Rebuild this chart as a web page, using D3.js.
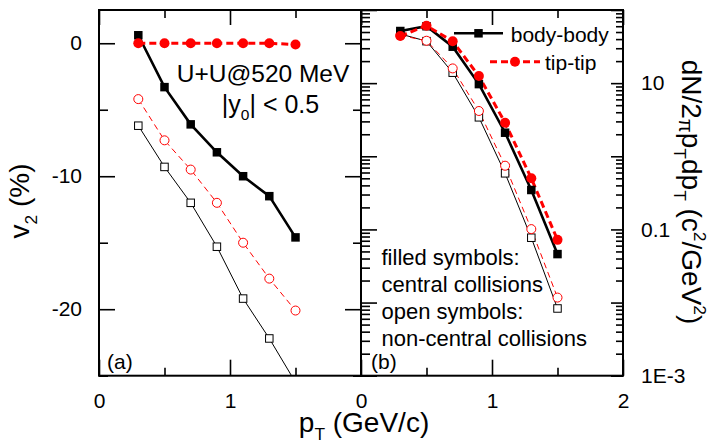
<!DOCTYPE html>
<html>
<head>
<meta charset="utf-8">
<script src="https://cdn.jsdelivr.net/npm/d3@7"></script>
<style>
  body { margin: 0; background: #fff; }
  svg { font-family: "Liberation Sans", Arial, sans-serif; }
</style>
</head>
<body>
<div id="chart"></div>
<script>
// DATA
const pT = [0.3, 0.5, 0.7, 0.9, 1.1, 1.3, 1.5];

// panel (a): v2 (%)
const v2BodyCentral = [0.6, -3.3, -6.1, -8.2, -10.0, -11.5, -14.6];
const v2TipCentral = [0, 0, 0, 0, 0, 0, -0.1];
const v2BodyNonCentral = [-6.2, -9.3, -12.0, -15.3, -19.2, -22.2, -25.5];
const v2TipNonCentral = [-4.2, -7.3, -9.5, -12.0, -15.0, -17.7, -20.1];

// panel (b): dN/2pi pT dpT
const specBodyCentral = [51.6, 60, 31.5, 9.7, 2.1, 0.346, 0.046];
const specTipCentral = [44, 61, 37.3, 12.5, 2.88, 0.5, 0.072];
const specBodyNonCentral = [47, 37.5, 13.9, 3.41, 0.585, 0.077, 0.0083];
const specTipNonCentral = [45, 38, 15.9, 4.16, 0.743, 0.101, 0.0117];

// TICKS
const xTicksA = [0, 1];
const xTicksB = [0, 1, 2];
const xMinor = [0.5, 1.5];
const v2Ticks = [0, -10, -20];
const v2Minor = [-5, -15, -25];
const logTicks = [1e-3, 1e-2, 1e-1, 1, 10, 100];
const logTickLabels = { 0.001: "1E-3", 0.1: "0.1", 10: "10" };

const WIDTH = 715;
const HEIGHT = 447;
const TOP = 10;
const BOTTOM = 375.7;
const FONT = 21;

const svg = d3
  .select("#chart")
  .append("svg")
  .attr("width", WIDTH)
  .attr("height", HEIGHT);

// SCALES
const xA = d3.scaleLinear().domain([0, 2]).range([99, 361]);
const xB = d3.scaleLinear().domain([0, 2]).range([361, 623]);
const yV2 = d3.scaleLinear().domain([-25, 2.5]).range([BOTTOM, TOP]);
const yLog = d3.scaleLog().domain([1e-3, 100]).range([BOTTOM, TOP]);

const logMinor = [];
[1e-3, 1e-2, 1e-1, 1, 10].forEach((d) => {
  for (let k = 2; k <= 9; k++) logMinor.push(d * k);
});

// clip
const defs = svg.append("defs");
defs
  .append("clipPath")
  .attr("id", "clipA")
  .append("rect")
  .attr("x", 99)
  .attr("y", TOP)
  .attr("width", 262)
  .attr("height", BOTTOM - TOP);

const plain = (d) => String(d);

// AXIS helper
function styleAxis(g) {
  g.select(".domain").remove();
  g.selectAll(".tick line").attr("stroke", "#000").attr("stroke-width", 1.6);
  g.selectAll(".tick text")
    .attr("fill", "#000")
    .attr("font-size", FONT + "px")
    .attr("font-family", "Liberation Sans, Arial, sans-serif");
  g.selectAll(".tick text")
    .filter(function () {
      return !this.textContent;
    })
    .remove();
}

function drawFrameAxes(x, y, opts) {
  // bottom
  svg
    .append("g")
    .attr("transform", `translate(0, ${BOTTOM})`)
    .call(
      d3
        .axisBottom(x)
        .tickValues(opts.xLabels)
        .tickSizeInner(-16)
        .tickSizeOuter(0)
        .tickPadding(17)
        .tickFormat(plain)
    )
    .call(styleAxis);
  svg
    .append("g")
    .attr("transform", `translate(0, ${BOTTOM})`)
    .call(d3.axisBottom(x).tickValues(xMinor).tickSize(-8).tickFormat(""))
    .call(styleAxis);
  // top
  svg
    .append("g")
    .attr("transform", `translate(0, ${TOP})`)
    .call(d3.axisTop(x).tickValues([0, 1, 2]).tickSize(-15).tickFormat(""))
    .call(styleAxis);
  svg
    .append("g")
    .attr("transform", `translate(0, ${TOP})`)
    .call(d3.axisTop(x).tickValues(xMinor).tickSize(-8).tickFormat(""))
    .call(styleAxis);
  // left / right
  const x0 = x.range()[0];
  const x1 = x.range()[1];
  svg
    .append("g")
    .attr("transform", `translate(${x0}, 0)`)
    .call(
      d3
        .axisLeft(y)
        .tickValues(opts.yMajor)
        .tickSizeInner(-16)
        .tickSizeOuter(0)
        .tickPadding(17)
        .tickFormat(opts.leftFormat)
    )
    .call(styleAxis);
  svg
    .append("g")
    .attr("transform", `translate(${x0}, 0)`)
    .call(d3.axisLeft(y).tickValues(opts.yMinor).tickSize(-9).tickFormat(""))
    .call(styleAxis);
  svg
    .append("g")
    .attr("transform", `translate(${x1}, 0)`)
    .call(
      d3
        .axisRight(y)
        .tickValues(opts.yMajor)
        .tickSizeInner(-opts.rightMajor)
        .tickSizeOuter(0)
        .tickPadding(18)
        .tickFormat(opts.rightFormat)
    )
    .call(styleAxis)
    .call((g) => g.selectAll(".tick text").attr("text-anchor", "start"));
  svg
    .append("g")
    .attr("transform", `translate(${x1}, 0)`)
    .call(
      d3.axisRight(y).tickValues(opts.yMinor).tickSize(-opts.rightMinor).tickFormat("")
    )
    .call(styleAxis);
  // frame
  svg
    .append("rect")
    .attr("x", x0)
    .attr("y", TOP)
    .attr("width", x1 - x0)
    .attr("height", BOTTOM - TOP)
    .attr("fill", "none")
    .attr("stroke", "#000")
    .attr("stroke-width", 2);
}

drawFrameAxes(xA, yV2, {
  xLabels: xTicksA,
  yMajor: v2Ticks,
  yMinor: v2Minor,
  leftFormat: plain,
  rightFormat: "",
  rightMajor: 16,
  rightMinor: 8,
});

drawFrameAxes(xB, yLog, {
  xLabels: xTicksB,
  yMajor: logTicks,
  yMinor: logMinor,
  leftFormat: "",
  rightFormat: (d) => logTickLabels[d] || "",
  rightMajor: 12,
  rightMinor: 7,
});

// SERIES
const series = [
  { a: v2BodyNonCentral, b: specBodyNonCentral, color: "#000", width: 1, dash: null, shape: "square", filled: false },
  { a: v2TipNonCentral, b: specTipNonCentral, color: "#ff0000", width: 1, dash: "6,4", shape: "circle", filled: false },
  { a: v2BodyCentral, b: specBodyCentral, color: "#000", width: 2.6, dash: null, shape: "square", filled: true },
  { a: v2TipCentral, b: specTipCentral, color: "#ff0000", width: 3, dash: "7,4", shape: "circle", filled: true },
];

function drawMarker(g, cx, cy, s) {
  if (s.shape === "square") {
    const size = s.filled ? 8.5 : 7.5;
    g.append("rect")
      .attr("x", cx - size / 2)
      .attr("y", cy - size / 2)
      .attr("width", size)
      .attr("height", size)
      .attr("fill", s.filled ? s.color : "#fff")
      .attr("stroke", s.color)
      .attr("stroke-width", s.filled ? 0 : 1);
  } else {
    g.append("circle")
      .attr("cx", cx)
      .attr("cy", cy)
      .attr("r", s.filled ? 5 : 4.5)
      .attr("fill", s.filled ? s.color : "#fff")
      .attr("stroke", s.color)
      .attr("stroke-width", s.filled ? 0 : 1);
  }
}

function drawSeries(group, x, y, values, s) {
  const line = d3
    .line()
    .x((d, i) => x(pT[i]))
    .y((d) => y(d));
  group
    .append("path")
    .attr("d", line(values))
    .attr("fill", "none")
    .attr("stroke", s.color)
    .attr("stroke-width", s.width)
    .attr("stroke-dasharray", s.dash);
}

const gA = svg.append("g").attr("clip-path", "url(#clipA)");
const gB = svg.append("g");

series.forEach((s) => {
  drawSeries(gA, xA, yV2, s.a, s);
  drawSeries(gB, xB, yLog, s.b, s);
});
series.forEach((s) => {
  s.a.forEach((d, i) => drawMarker(gA, xA(pT[i]), yV2(d), s));
  s.b.forEach((d, i) => drawMarker(gB, xB(pT[i]), yLog(d), s));
});

// RICH TEXT
function richText(sel, parts, size) {
  let shift = 0;
  parts.forEach(([t, kind]) => {
    let target = 0;
    let fs = size;
    if (kind === "sub") {
      target = 0.28 * size;
      fs = size * 0.62;
    } else if (kind === "sup") {
      target = -0.42 * size;
      fs = size * 0.62;
    } else if (kind === "pi") {
      target = 0.12 * size;
      fs = size * 0.72;
    }
    sel.append("tspan")
      .attr("dy", target - shift)
      .attr("font-size", fs + "px")
      .text(t);
    shift = target;
  });
}

function addText(x, y, parts, size, anchor, rotate) {
  const t = svg
    .append("text")
    .attr("transform", `translate(${x}, ${y})` + (rotate ? ` rotate(${rotate})` : ""))
    .attr("text-anchor", anchor)
    .attr("font-size", size + "px")
    .attr("fill", "#000");
  richText(t, parts, size);
  return t;
}

// LABELS
addText(29, 201, [["v"], ["2", "sub"], [" (%)"]], 28, "middle", -90);
addText(364, 432, [["p"], ["T", "sub"], [" (GeV/c)"]], 28, "middle");
addText(
  682,
  192,
  [["dN/2"], ["\u03c0", "pi"], ["p"], ["T", "sub"], ["dp"], ["T", "sub"], [" (c"], ["2", "sup"], ["/GeV"], ["2", "sup"], [")"]],
  28,
  "middle",
  90
);

addText(263, 82, [["U+U@520 MeV"]], 24.5, "middle");
addText(270.5, 112.5, [["|y"], ["0", "sub"], ["| < 0.5"]], 25, "middle");

addText(107, 368.5, [["(a)"]], FONT, "start");
addText(371, 368.5, [["(b)"]], FONT, "start");

const notes = ["filled symbols:", "central collisions", "open symbols:", "non-central collisions"];
notes.forEach((d, i) => addText(381.5, 264.5 + i * 27.3, [[d]], 22, "start"));

// LEGEND
const legend = [
  { label: "body-body", s: series[2], x0: 454, x1: 503, y: 33.3, tx: 510.7 },
  { label: "tip-tip", s: series[3], x0: 490, x1: 540, y: 61.7, tx: 545 },
];
legend.forEach((l) => {
  svg
    .append("line")
    .attr("x1", l.x0)
    .attr("x2", l.x1)
    .attr("y1", l.y)
    .attr("y2", l.y)
    .attr("stroke", l.s.color)
    .attr("stroke-width", l.s.width)
    .attr("stroke-dasharray", l.s.dash);
  drawMarker(svg, (l.x0 + l.x1) / 2, l.y, l.s);
  addText(l.tx, l.y + 8.2, [[l.label]], FONT, "start");
});
</script>
</body>
</html>
